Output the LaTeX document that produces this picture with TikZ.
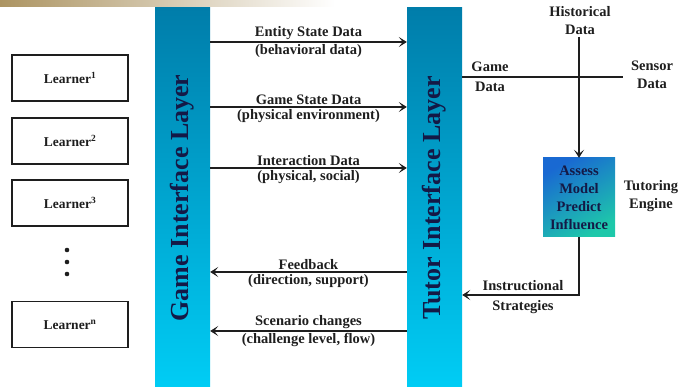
\documentclass[tikz,border=0pt]{standalone}
\usepackage{fontspec}
\setmainfont{Liberation Serif}
\usepackage{xcolor}
\definecolor{ttink}{RGB}{30,30,30}
\definecolor{ttnavy}{RGB}{20,25,70}
\definecolor{ttbartop}{RGB}{0,125,170}
\definecolor{ttbarbot}{RGB}{0,205,245}
\definecolor{ttengtop}{RGB}{25,105,210}
\definecolor{ttengbot}{RGB}{30,200,170}
\definecolor{ttband}{RGB}{172,148,98}
\usetikzlibrary{arrows.meta,positioning,calc}

\begin{document}
\begin{tikzpicture}[x=1pt, y=-1pt,
    learnerbox/.style={rectangle, minimum width=116pt, minimum height=46pt, draw=ttink, line width=1.2pt,
      font=\fontsize{13.5}{15}\selectfont\bfseries, text=ttink},
    layerbar/.style={rectangle, minimum width=55pt, minimum height=380pt, inner sep=0pt,
      top color=ttbartop, bottom color=ttbarbot},
    layertext/.style={rotate=90, font=\fontsize{26}{30}\selectfont\bfseries, text=ttnavy},
    lbl/.style={font=\fontsize{14.5}{18}\selectfont\bfseries, text=ttink, align=center, inner sep=1.5pt},
    flow/.style={-{Stealth[length=8pt, width=10pt, inset=4pt]}, line width=1.6pt, ttink},
    wire/.style={line width=1.6pt, ttink}
  ]
    \useasboundingbox (0,0) rectangle (678,387);
    % banner strip
    \shade[left color=ttband, right color=white] (0,0) rectangle (335,7);

    % learners
    \node[learnerbox] (l1) at (70,78)    {Learner\textsuperscript{1}};
    \node[learnerbox] (l2) at (70,141)   {Learner\textsuperscript{2}};
    \node[learnerbox] (l3) at (70,203)   {Learner\textsuperscript{3}};
    \node[learnerbox] (ln) at (70,324.5) {Learner\textsuperscript{n}};
    \foreach \yy in {250,262,274}
      \fill[ttink] (67,\yy) circle (2.3pt);

    % interface layers
    \node[layerbar] (gil) at (182.5,198) {};
    \node[layertext] (gtxt) at (gil.center) {Game Interface Layer};
    \node[layerbar] (til) at (434.5,198) {};
    \node[layertext] (ttxt) at (til.center) {Tutor Interface Layer};

    % data flows
    \coordinate (r1) at (0,42);
    \coordinate (r2) at (0,107);
    \coordinate (r3) at (0,168);
    \coordinate (r4) at (0,272);
    \coordinate (r5) at (0,331);
    \draw[flow] (gil.east |- r1) -- (til.west |- r1)
      node[lbl, midway, above] (e1) {Entity State Data} node[lbl, midway, below] (e2) {(behavioral data)};
    \draw[flow] (gil.east |- r2) -- (til.west |- r2)
      node[lbl, midway, above] (g1) {Game State Data} node[lbl, midway, below] (g2) {(physical environment)};
    \draw[flow] (gil.east |- r3) -- (til.west |- r3)
      node[lbl, midway, above] (i1) {Interaction Data} node[lbl, midway, below] (i2) {(physical, social)};
    \draw[flow] (til.west |- r4) -- (gil.east |- r4)
      node[lbl, midway, above] (f1) {Feedback} node[lbl, midway, below] (f2) {(direction, support)};
    \draw[flow] (til.west |- r5) -- (gil.east |- r5)
      node[lbl, midway, above] (s1) {Scenario changes} node[lbl, midway, below] (s2) {(challenge level, flow)};

    % tutoring engine
    \node[rectangle, minimum width=72pt, minimum height=79pt, inner sep=0pt,
      top color=ttengtop, bottom color=ttengbot, shading angle=30,
      font=\fontsize{14.5}{18}\selectfont\bfseries, text=ttnavy, align=center] (eng) at (579,197.5)
      {Assess\\Model\\Predict\\Influence};
    \node[lbl] (teng) at (651,196) {Tutoring\\Engine};

    \node[lbl] (hist) at (580,21) {Historical\\Data};
    \node[lbl] (gdat) at (490,77) {Game\\[2pt]Data};
    \node[lbl] (sdat) at (652,75) {Sensor\\Data};
    \coordinate (send) at (623,77);
    \draw[wire] (til.east |- send) -- (send);
    \draw[flow] (eng.north |- hist.south) -- (eng.north);

    \coordinate (ret) at (579,295);
    \node[lbl] (istr) at (523,297) {Instructional\\[2pt]Strategies};
    \draw[flow] (eng.south) -- (ret) -- (til.east |- ret);
  \end{tikzpicture}
\end{document}
